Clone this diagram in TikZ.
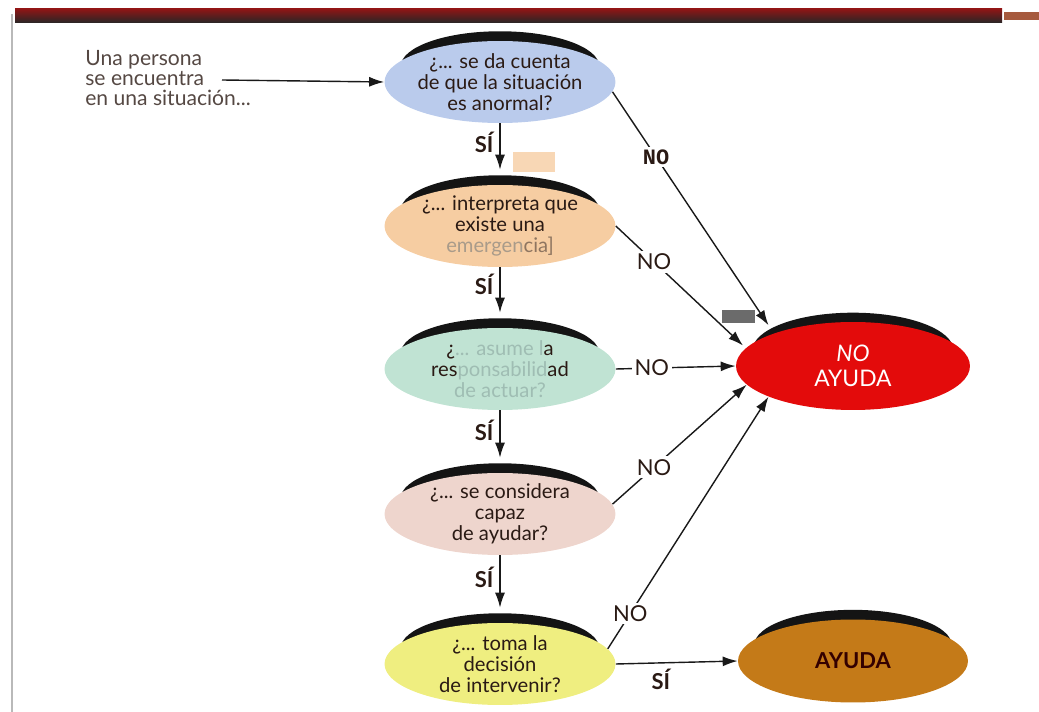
\documentclass[tikz,border=0pt]{standalone}
\usepackage{fontspec}
\setmainfont{Lato}
\newfontfamily\mono{Liberation Mono}
\usetikzlibrary{shapes.geometric,shadows,arrows.meta}
\definecolor{azul}{HTML}{BACBEC}
\definecolor{melocoton}{HTML}{F6CDA2}
\definecolor{verde}{HTML}{C0E3D3}
\definecolor{rosa}{HTML}{EED5CD}
\definecolor{amarillo}{HTML}{EFEE80}
\definecolor{rojo}{HTML}{E30B0B}
\definecolor{marron}{HTML}{C47A18}
\definecolor{texto}{HTML}{2A1A14}
\definecolor{palido}{HTML}{9FBDB3}
\definecolor{tenue}{HTML}{A99B8A}
\definecolor{tenuedos}{HTML}{8E7560}
\definecolor{barra}{HTML}{8E1616}
\definecolor{cobre}{HTML}{A65A3E}

\begin{document}
\begin{tikzpicture}[x=0.02cm, y=-0.02cm, >={Latex[length=3mm,width=2mm]},
    pregunta/.style={ellipse, minimum width=4.62cm, minimum height=1.64cm,
        inner xsep=-0.7cm, inner ysep=-0.2cm, align=center, text=texto,
        font=\fontsize{11.5}{12}\selectfont,
        drop shadow={opacity=1, fill=black!92, shadow xshift=0pt,
            shadow yshift=0.36cm, shadow scale=0.86}},
    etiqueta/.style={fill=white, inner sep=1.5pt, text=texto, font=\fontsize{12.5}{12}\selectfont},
    si/.style={text=texto, font=\fontsize{12.5}{12}\selectfont\bfseries}]
    \useasboundingbox (0,0) rectangle (1039,712);

    \shade [top color=barra, bottom color=black!85] (15,9) rectangle (1002,23);
    \fill [cobre] (1004,12) rectangle (1039,20);
    \draw [gray!55, line width=0.4mm] (12,14) -- (12,712);
    \fill [melocoton!80!white] (513,152) rectangle (555,172);
    \fill [black!58] (722,310) rectangle (755,323);

    \node [anchor=west, align=left, inner sep=0pt, text=texto!80!white, font=\fontsize{12}{11.4}\selectfont]
        (situacion) at (85,78) {Una persona\\se encuentra\\en una situación...};
    \coordinate (inicio) at (222,80);

    \node [pregunta, fill=azul] (q1) at (500,82) {¿... se da cuenta\\de que la situación\\es anormal?};
    \node [pregunta, fill=melocoton] (q2) at (500,226) {¿... interpreta que\\existe una\\{\color{tenue}emergen}{\color{tenuedos}cia]}};
    \node [pregunta, fill=verde] (q3) at (500,369) {¿{\color{palido}... asume l}a\\res{\color{palido}ponsabilid}ad\\{\color{palido}de actuar?}};
    \node [pregunta, fill=rosa] (q4) at (500,514) {¿... se considera\\capaz\\de ayudar?};
    \node [pregunta, fill=amarillo] (q5) at (500,664) {¿... toma la\\decisión\\de intervenir?};

    \node [pregunta, fill=rojo, text=white, minimum width=4.68cm, minimum height=1.76cm, font=\fontsize{13}{14}\selectfont] (noayuda) at (853,366) {\textit{NO}\\AYUDA};
    \node [pregunta, fill=marron, text=black!80!red, minimum width=4.6cm, minimum height=1.66cm, font=\fontsize{12.5}{12}\selectfont] (ayuda) at (853,661) {\bfseries AYUDA};

    \begin{scope}[->, thick, draw=black!90]
        \draw (inicio) -- (q1.west);
        \draw (q1.south) -- node [si, left, pos=0.42] {SÍ} ([yshift=0.3cm]q2.north);
        \draw (q2.south) -- node [si, left, pos=0.38] {SÍ} ([yshift=0.3cm]q3.north);
        \draw (q3.south) -- node [si, left, pos=0.42] {SÍ} ([yshift=0.3cm]q4.north);
        \draw (q4.south) -- node [si, left, pos=0.42] {SÍ} ([yshift=0.3cm]q5.north);
        \draw (q5.east) -- node [si, below, pos=0.37] {SÍ} (ayuda.west);

        \draw (q1.-5) -- node [etiqueta, pos=0.28] {\mono\bfseries NO} ([yshift=0.2cm]noayuda.160);
        \draw (q2.east) -- node [etiqueta, pos=0.3] {NO} ([yshift=0.1cm]noayuda.172);
        \draw (q3.east) -- node [etiqueta, pos=0.3] {NO} (noayuda.west);
        \draw (q4.5) -- node [etiqueta, pos=0.31] {NO} (noayuda.190);
        \draw (q5.8) -- node [etiqueta, pos=0.14] {NO} (noayuda.200);
    \end{scope}
\end{tikzpicture}
\end{document}
